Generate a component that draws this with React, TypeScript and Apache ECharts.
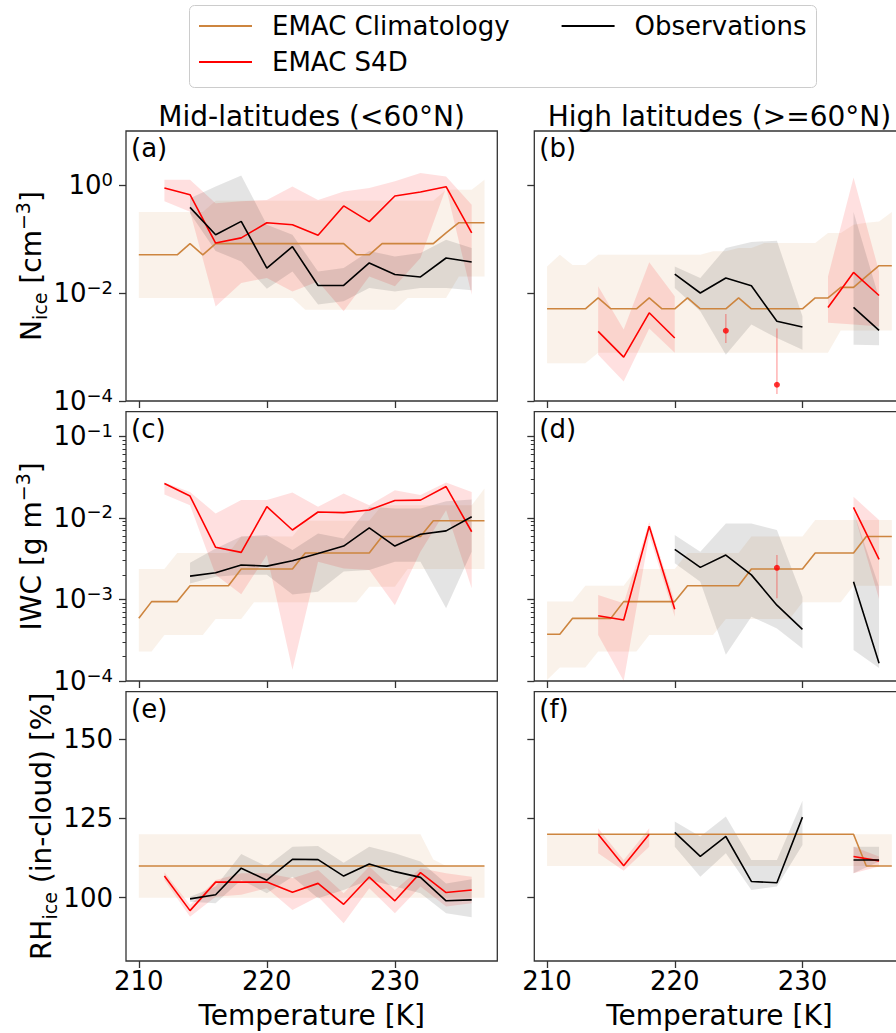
import React, { useEffect, useRef } from 'react';
import * as echarts from 'echarts';

// Temperatures [K]
const T_CLIM = [210, 211, 212, 213, 214, 215, 216, 217, 218, 219, 220, 221, 222, 223, 224, 225, 226, 227, 228, 229, 230, 231, 232, 233, 234, 235, 236, 237];
const T_BIN = [212, 214, 216, 218, 220, 222, 224, 226, 228, 230, 232, 234, 236];

// (a) Nice mid-latitudes
const climA = [0.051, 0.051, 0.051, 0.051, 0.082, 0.051, 0.082, 0.082, 0.082, 0.082, 0.082, 0.082, 0.082, 0.082, 0.082, 0.082, 0.082, 0.051, 0.051, 0.082, 0.082, 0.082, 0.082, 0.082, 0.13, 0.2, 0.2, 0.2];
const climAHi = [0.316, 0.316, 0.316, 0.316, 0.316, 0.316, 0.51, 0.51, 0.51, 0.51, 0.51, 0.51, 0.51, 0.51, 0.51, 0.51, 0.51, 0.51, 0.51, 0.51, 0.51, 0.51, 0.51, 0.51, 0.82, 0.82, 0.82, 1.25];
const climALo = [0.0081, 0.0081, 0.0081, 0.0081, 0.0081, 0.0081, 0.0081, 0.0081, 0.0081, 0.0081, 0.0081, 0.0081, 0.0081, 0.0049, 0.0049, 0.0049, 0.0049, 0.0049, 0.0049, 0.0049, 0.0049, 0.0081, 0.0081, 0.0081, 0.0081, 0.0203, 0.0203, 0.0203];
const s4dA = [0.88, 0.66, 0.084, 0.105, 0.2, 0.184, 0.117, 0.41, 0.21, 0.625, 0.74, 0.93, 0.13];
const s4dAHi = [1.25, 1.25, 0.46, 0.5, 0.53, 0.94, 0.53, 0.76, 0.88, 1.17, 1.67, 1.44, 0.43];
const s4dALo = [0.5, 0.32, 0.00565, 0.0153, 0.019, 0.0107, 0.0164, 0.0046, 0.0203, 0.0133, 0.0445, 0.88, 0.0093];
const obsA = [null, 0.385, 0.12, 0.212, 0.029, 0.072, 0.0138, 0.0138, 0.036, 0.022, 0.0198, 0.0445, 0.0375];
const obsAHi = [null, 0.57, 0.94, 1.5, 0.184, 0.12, 0.025, 0.029, 0.06, 0.0476, 0.055, 0.097, 0.068];
const obsALo = [null, 0.3, 0.06, 0.0385, 0.012, 0.025, 0.0061, 0.007, 0.0124, 0.0107, 0.0124, 0.0124, 0.0113];

// (b) Nice high latitudes
const climB = [0.0051, 0.0051, 0.0051, 0.0051, 0.0081, 0.0051, 0.0051, 0.0051, 0.0081, 0.0051, 0.0051, 0.0081, 0.0051, 0.0051, 0.0051, 0.0081, 0.0051, 0.0051, 0.0051, 0.0051, 0.0051, 0.0081, 0.0081, 0.0127, 0.0127, 0.0203, 0.032, 0.032];
const climBHi = [0.031, 0.051, 0.033, 0.033, 0.051, 0.051, 0.051, 0.051, 0.051, 0.051, 0.051, 0.051, 0.051, 0.059, 0.059, 0.068, 0.068, 0.084, 0.084, 0.084, 0.084, 0.084, 0.129, 0.129, 0.184, 0.2, 0.21, 0.316];
const climBLo = [0.0005, 0.0005, 0.0005, 0.0005, 0.00078, 0.00078, 0.00078, 0.00078, 0.00078, 0.00078, 0.00078, 0.00078, 0.00078, 0.00078, 0.00078, 0.00078, 0.00078, 0.00078, 0.00078, 0.00078, 0.00078, 0.00078, 0.00078, 0.00203, 0.00203, 0.00203, 0.00203, 0.00203];
const s4dB = [null, 0.00195, 0.00065, 0.0043, 0.00147, null, null, null, null, null, 0.0054, 0.024, 0.009];
const s4dBHi = [null, 0.0133, 0.0021, 0.037, 0.0087, null, null, null, null, null, 0.0203, 1.38, 0.025];
const s4dBLo = [null, 0.00072, 0.00023, 0.0022, 0.00078, null, null, null, null, null, 0.0028, 0.0026, 0.0024];
const obsB = [null, null, null, null, 0.0224, 0.01, 0.019, 0.0136, 0.003, 0.00234, null, 0.0054, 0.00203];
const obsBHi = [null, null, null, null, 0.031, 0.019, 0.068, 0.088, 0.093, 0.0037, null, 0.316, 0.0081];
const obsBLo = [null, null, null, null, 0.0124, 0.0046, 0.00072, 0.0026, 0.00147, 0.00089, null, 0.0011, 0.00108];
const dotsB = [[224, 0.002, 0.00119, 0.0041], [228, 0.0002, 0.000135, 0.0022]];

// (c) IWC mid-latitudes
const climC = [0.000586, 0.00094, 0.00094, 0.00094, 0.00147, 0.00147, 0.00147, 0.00147, 0.00236, 0.00236, 0.00236, 0.00236, 0.00236, 0.0037, 0.0037, 0.0037, 0.0037, 0.0037, 0.0037, 0.0059, 0.0059, 0.0059, 0.0059, 0.0092, 0.0092, 0.0092, 0.0092, 0.0092];
const climCHi = [0.00236, 0.00236, 0.00236, 0.0037, 0.0037, 0.0037, 0.0037, 0.0037, 0.0059, 0.0059, 0.0059, 0.0059, 0.0059, 0.0092, 0.0092, 0.0092, 0.0092, 0.0092, 0.0092, 0.0143, 0.0143, 0.0143, 0.0143, 0.0143, 0.0143, 0.0143, 0.0143, 0.0229];
const climCLo = [0.00023, 0.00023, 0.000366, 0.000366, 0.000366, 0.000366, 0.000575, 0.000575, 0.000575, 0.00092, 0.00092, 0.00092, 0.00092, 0.00092, 0.00092, 0.00092, 0.00092, 0.00092, 0.00143, 0.00143, 0.00143, 0.00236, 0.00236, 0.00236, 0.00236, 0.00236, 0.00236, 0.00236];
const s4dC = [0.0264, 0.0185, 0.00435, 0.00377, 0.0137, 0.0071, 0.0118, 0.0116, 0.0125, 0.0163, 0.0165, 0.0242, 0.00675];
const s4dCHi = [0.0271, 0.0208, 0.0113, 0.0165, 0.0165, 0.0204, 0.0137, 0.0199, 0.0143, 0.0218, 0.019, 0.0271, 0.0208];
const s4dCLo = [0.0193, 0.0143, 0.002, 0.00116, 0.0035, 0.000137, 0.0029, 0.0024, 0.0023, 0.00085, 0.00384, 0.0124, 0.00137];
const obsC = [null, 0.00193, 0.00212, 0.00264, 0.00256, 0.00298, 0.00366, 0.00451, 0.00755, 0.00451, 0.0063, 0.00693, 0.0103];
const obsCHi = [null, 0.00282, 0.00421, 0.0059, 0.00614, 0.00403, 0.00644, 0.0056, 0.0137, 0.013, 0.013, 0.016, 0.0168];
const obsCLo = [null, 0.00157, 0.0019, 0.002, 0.002, 0.00115, 0.00124, 0.0022, 0.0023, 0.0029, 0.0029, 0.00078, 0.00384];

// (d) IWC high latitudes
const climD = [0.000374, 0.000374, 0.000586, 0.000586, 0.000586, 0.000586, 0.00094, 0.00094, 0.00094, 0.00094, 0.00094, 0.00147, 0.00147, 0.00147, 0.00147, 0.00147, 0.00236, 0.00236, 0.00236, 0.00236, 0.00236, 0.0037, 0.0037, 0.0037, 0.0037, 0.0059, 0.0059, 0.0059];
const climDHi = [0.00094, 0.00094, 0.00094, 0.00147, 0.00147, 0.00147, 0.00147, 0.00236, 0.00236, 0.00236, 0.00236, 0.0037, 0.0037, 0.0037, 0.0037, 0.0037, 0.0059, 0.0059, 0.0059, 0.0059, 0.0059, 0.0094, 0.0094, 0.0094, 0.0094, 0.0094, 0.0094, 0.0094];
const climDLo = [0.000103, 0.000146, 0.000146, 0.000146, 0.00023, 0.00023, 0.00023, 0.00023, 0.000366, 0.000366, 0.000366, 0.000366, 0.000366, 0.000366, 0.000575, 0.000575, 0.000575, 0.000575, 0.000575, 0.000575, 0.00092, 0.00092, 0.00092, 0.00092, 0.00147, 0.00147, 0.00147, 0.00147];
const s4dD = [null, 0.00063, 0.00056, 0.0079, 0.00076, null, null, null, null, null, null, 0.0134, 0.0031];
const s4dDHi = [null, 0.00113, 0.000896, 0.0089, 0.00094, null, null, null, null, null, null, 0.0181, 0.0094];
const s4dDLo = [null, 0.000366, 0.0001, 0.0061, 0.000615, null, null, null, null, null, null, 0.0119, 0.00101];
const obsD = [null, null, null, null, 0.0041, 0.00247, 0.0035, 0.002, 0.00085, 0.00043, null, 0.00165, 0.000165];
const obsDHi = [null, null, null, null, 0.00614, 0.00384, 0.00853, 0.00853, 0.0071, 0.00108, null, 0.0119, 0.00143];
const obsDLo = [null, null, null, null, 0.00277, 0.00165, 0.00021, 0.000615, 0.00044, 0.00025, null, 0.00024, 0.000144];
const dotsD = [[228, 0.00244, 0.00103, 0.0035]];

// (e) RHice mid-latitudes
const climE = [110, 110, 110, 110, 110, 110, 110, 110, 110, 110, 110, 110, 110, 110, 110, 110, 110, 110, 110, 110, 110, 110, 110, 110, 110, 110, 110, 110];
const climEHi = [120, 120, 120, 120, 120, 120, 120, 120, 120, 120, 120, 120, 120, 120, 120, 120, 120, 120, 120, 120, 120, 120, 120, 112, 110, 110, 110, 110];
const climELo = [100, 100, 100, 100, 100, 100, 100, 100, 100, 100, 100, 100, 100, 100, 100, 100, 100, 100, 100, 100, 100, 100, 100, 100, 100, 100, 100, 100];
const s4dE = [106.8, 95.9, 104.9, 104.9, 104.9, 101.7, 104.5, 97.9, 106.5, 99.0, 107.9, 101.6, 102.4];
const s4dEHi = [108, 97.7, 105.6, 107.7, 107.7, 106.1, 108.7, 101.4, 109.8, 102.4, 109.3, 107.7, 106.6];
const s4dELo = [105.6, 94.0, 100.3, 100.9, 103.0, 96.1, 100.3, 91.9, 103.0, 95.1, 103.5, 97.2, 98.2];
const obsE = [null, 99.6, 100.9, 109.3, 105.5, 112.1, 112.0, 106.8, 110.6, 108.2, 106.4, 99.0, 99.3];
const obsEHi = [null, 100.3, 103.5, 113.8, 109.8, 116.1, 116.3, 111.0, 116.1, 114.0, 111.4, 104.5, 105.8];
const obsELo = [null, 98.7, 98.2, 105.6, 101.4, 106.6, 99.8, 102.4, 105.6, 103.5, 101.4, 95.1, 93.8];

// (f) RHice high latitudes
const climF = [120, 120, 120, 120, 120, 120, 120, 120, 120, 120, 120, 120, 120, 120, 120, 120, 120, 120, 120, 120, 120, 120, 120, 120, 120, 110, 110, 110];
const climFHi = [120, 120, 120, 120, 120, 120, 120, 120, 120, 120, 120, 120, 120, 120, 120, 120, 120, 120, 120, 120, 120, 120, 120, 120, 120, 120, 120, 120];
const climFLo = [110, 110, 110, 110, 110, 110, 110, 110, 110, 110, 110, 110, 110, 110, 110, 110, 110, 110, 110, 110, 110, 110, 110, 110, 110, 110, 110, 110];
const s4dF = [null, 120, 110.1, 120, null, null, null, null, null, null, null, 113, 111.6];
const s4dFHi = [null, 121.9, 111.9, 121.9, null, null, null, null, null, null, null, 116.1, 113.0];
const s4dFLo = [null, 114, 108.5, 116.1, null, null, null, null, null, null, null, 107.7, 109.8];
const obsF = [null, null, null, null, 120.6, 113.0, 119.3, 105.1, 104.7, 125.4, null, 111.9, 111.9];
const obsFHi = [null, null, null, null, 124.0, 119.3, 125.6, 111.9, 111.9, 130.6, null, 116.1, 116.1];
const obsFLo = [null, null, null, null, 116.1, 106.6, 114.0, 102.4, 103.5, 116.6, null, 107.7, 111.4];

const X_TICKS = [210, 220, 230];
const NICE_TICKS = [1e-4, 1e-2, 1];
const IWC_TICKS = [1e-4, 1e-3, 1e-2, 1e-1];
const IWC_MINOR = [2e-4, 3e-4, 4e-4, 5e-4, 6e-4, 7e-4, 8e-4, 9e-4, 2e-3, 3e-3, 4e-3, 5e-3, 6e-3, 7e-3, 8e-3, 9e-3, 2e-2, 3e-2, 4e-2, 5e-2, 6e-2, 7e-2, 8e-2, 9e-2];
const RH_TICKS = [100, 125, 150];
const LETTERS = ['(a)', '(b)', '(c)', '(d)', '(e)', '(f)'];
const COL_TITLES = ['Mid-latitudes (<60°N)', 'High latitudes (>=60°N)'];
const NAMES = { clim: 'EMAC Climatology', s4d: 'EMAC S4D', obs: 'Observations' };

const FONT = '"DejaVu Sans", Verdana, sans-serif';
const C_CLIM = '#CD853F';
const C_S4D = '#FF0000';
const C_OBS = '#000000';
const F_CLIM = 'rgba(205,133,63,0.11)';
const F_S4D = 'rgba(255,0,0,0.12)';
const F_OBS = 'rgba(0,0,0,0.105)';
const SPINE = '#333333';

const LEFTS = [126, 534.3];
const WIDTHS = [371.3, 370.3];
const TOPS = [131, 411.7, 691.7];
const HEIGHTS = [270, 269.3, 269.3];

const panels = [
  { clim: [climA, climALo, climAHi], s4d: [s4dA, s4dALo, s4dAHi], obs: [obsA, obsALo, obsAHi], dots: [] as number[][] },
  { clim: [climB, climBLo, climBHi], s4d: [s4dB, s4dBLo, s4dBHi], obs: [obsB, obsBLo, obsBHi], dots: dotsB },
  { clim: [climC, climCLo, climCHi], s4d: [s4dC, s4dCLo, s4dCHi], obs: [obsC, obsCLo, obsCHi], dots: [] as number[][] },
  { clim: [climD, climDLo, climDHi], s4d: [s4dD, s4dDLo, s4dDHi], obs: [obsD, obsDLo, obsDHi], dots: dotsD },
  { clim: [climE, climELo, climEHi], s4d: [s4dE, s4dELo, s4dEHi], obs: [obsE, obsELo, obsEHi], dots: [] as number[][] },
  { clim: [climF, climFLo, climFHi], s4d: [s4dF, s4dFLo, s4dFHi], obs: [obsF, obsFLo, obsFHi], dots: [] as number[][] },
];

const MINUS = '\u2212';
const logLabel = (v: number) => {
  const e = Math.round(Math.log10(v));
  return `10{sup|${e < 0 ? MINUS : ''}${Math.abs(e)}}`;
};

const ROWS = [
  { type: 'log', min: 1e-4, max: 10, ticks: NICE_TICKS, name: `N{sub|ice} [cm{sup|${MINUS}3}]`, fmt: logLabel },
  { type: 'log', min: 1e-4, max: 0.2, ticks: IWC_TICKS, name: `IWC [g m{sup|${MINUS}3}]`, fmt: logLabel },
  { type: 'value', min: 80, max: 165, ticks: RH_TICKS, name: 'RH{sub|ice} (in-cloud) [%]', fmt: (v: number) => String(v) },
];

function bandSeries(id: string, idx: number, t: number[], lo: (number | null)[], hi: (number | null)[], fill: string, z: number) {
  const pts = t.map((x, i) => [x, lo[i], hi[i]]);
  const valid = pts.filter((p) => p[1] != null && p[2] != null);
  return {
    type: 'custom',
    id,
    xAxisIndex: idx,
    yAxisIndex: idx,
    silent: true,
    clip: true,
    z,
    dimensions: ['t', 'lo', 'hi'],
    encode: { x: 0, y: [1, 2] },
    data: valid,
    renderItem: (params: any, api: any) => {
      if (params.dataIndex !== 0) return null;
      const runs: any[][] = [];
      let cur: any[] = [];
      pts.forEach((p) => {
        if (p[1] == null || p[2] == null) {
          if (cur.length) runs.push(cur);
          cur = [];
        } else cur.push(p);
      });
      if (cur.length) runs.push(cur);
      return {
        type: 'group',
        children: runs
          .filter((r) => r.length > 1)
          .map((r) => ({
            type: 'polygon',
            shape: {
              points: [
                ...r.map((p) => api.coord([p[0], p[2]])),
                ...r.slice().reverse().map((p) => api.coord([p[0], p[1]])),
              ],
            },
            style: { fill, stroke: null },
          })),
      };
    },
  };
}

function lineSeries(name: string, idx: number, t: number[], v: (number | null)[], color: string, z: number) {
  return {
    type: 'line',
    name,
    xAxisIndex: idx,
    yAxisIndex: idx,
    data: t.map((x, i) => [x, v[i]]),
    showSymbol: false,
    symbol: 'none',
    connectNulls: false,
    silent: true,
    z,
    lineStyle: { color, width: 1.6 },
    itemStyle: { color },
  };
}

function buildOption() {
  const grid: any[] = [];
  const xAxis: any[] = [];
  const yAxis: any[] = [];
  const series: any[] = [];
  const graphic: any[] = [];

  for (let i = 0; i < 6; i++) {
    const row = Math.floor(i / 2);
    const col = i % 2;
    const R = ROWS[row];
    grid.push({
      left: LEFTS[col],
      top: TOPS[row],
      width: WIDTHS[col],
      height: HEIGHTS[row],
      show: true,
      borderColor: SPINE,
      borderWidth: 1.3,
      backgroundColor: 'transparent',
      containLabel: false,
      outerBoundsMode: 'none',
    });
    xAxis.push({
      type: 'value',
      gridIndex: i,
      min: 209,
      max: 238,
      axisLine: { show: false },
      splitLine: { show: false },
      axisTick: { show: true, customValues: X_TICKS, length: 7, lineStyle: { color: SPINE, width: 1.3 } },
      axisLabel: {
        show: row === 2,
        customValues: X_TICKS,
        fontSize: 26,
        fontFamily: FONT,
        color: '#000',
        margin: 7,
      },
      name: row === 2 ? 'Temperature [K]' : '',
      nameLocation: 'middle',
      nameGap: 40,
      nameTextStyle: { fontSize: 28, fontFamily: FONT, color: '#000', verticalAlign: 'top' },
    });
    const y: any = {
      type: R.type,
      gridIndex: i,
      position: 'left',
      min: R.min,
      max: R.max,
      axisLine: { show: false },
      splitLine: { show: false },
      axisTick: { show: true, customValues: R.ticks, length: 7, lineStyle: { color: SPINE, width: 1.3 } },
      axisLabel: {
        show: col === 0,
        customValues: R.ticks,
        formatter: R.fmt,
        fontSize: 26,
        fontFamily: FONT,
        color: '#000',
        margin: 13,
        lineHeight: 30,
        rich: { sup: { fontSize: 18, lineHeight: 24, verticalAlign: 'top', fontFamily: FONT, color: '#000' } },
      },
    };
    if (R.type === 'log') y.logBase = 10;
    if (col === 0) {
      y.name = R.name;
      y.nameLocation = 'middle';
      y.nameRotate = 90;
      y.nameGap = 62;
      y.nameTextStyle = {
        fontSize: 28,
        fontFamily: FONT,
        color: '#000',
        lineHeight: 36,
        rich: {
          sub: { fontSize: 19, lineHeight: 30, verticalAlign: 'bottom', fontFamily: FONT, color: '#000' },
          sup: { fontSize: 19, lineHeight: 30, verticalAlign: 'top', fontFamily: FONT, color: '#000' },
        },
      };
    }
    yAxis.push(y);

    const P = panels[i];
    series.push(bandSeries(`climband${i}`, i, T_CLIM, P.clim[1], P.clim[2], F_CLIM, 1));
    series.push(bandSeries(`s4dband${i}`, i, T_BIN, P.s4d[1], P.s4d[2], F_S4D, 2));
    series.push(bandSeries(`obsband${i}`, i, T_BIN, P.obs[1], P.obs[2], F_OBS, 3));
    series.push(lineSeries(NAMES.clim, i, T_CLIM, P.clim[0], C_CLIM, 5));
    series.push(lineSeries(NAMES.s4d, i, T_BIN, P.s4d[0], C_S4D, 6));
    series.push(lineSeries(NAMES.obs, i, T_BIN, P.obs[0], C_OBS, 7));
    if (P.dots.length) {
      series.push({
        type: 'custom',
        id: `err${i}`,
        xAxisIndex: i,
        yAxisIndex: i,
        silent: true,
        z: 8,
        dimensions: ['t', 'v', 'lo', 'hi'],
        encode: { x: 0, y: [1, 2, 3] },
        data: P.dots,
        renderItem: (params: any, api: any) => {
          const a = api.coord([api.value(0), api.value(2)]);
          const b = api.coord([api.value(0), api.value(3)]);
          return {
            type: 'line',
            shape: { x1: a[0], y1: a[1], x2: b[0], y2: b[1] },
            style: { stroke: 'rgba(255,0,0,0.3)', lineWidth: 1.5 },
          };
        },
      });
      series.push({
        type: 'scatter',
        id: `dots${i}`,
        xAxisIndex: i,
        yAxisIndex: i,
        silent: true,
        z: 9,
        symbol: 'circle',
        symbolSize: 6,
        itemStyle: { color: C_S4D },
        data: P.dots.map((d) => [d[0], d[1]]),
      });
    }

    graphic.push({
      type: 'text',
      x: LEFTS[col] + 5,
      y: TOPS[row] + 4,
      style: { text: LETTERS[i], fontSize: 26, fontFamily: FONT, fill: '#000', align: 'left', verticalAlign: 'top' },
      z: 20,
    });
  }

  // minor ticks on IWC axes
  [2, 3].forEach((gi) => {
    yAxis.push({
      type: 'log',
      logBase: 10,
      gridIndex: gi,
      position: 'left',
      min: 1e-4,
      max: 0.2,
      axisLine: { show: false },
      splitLine: { show: false },
      axisLabel: { show: false },
      axisTick: { show: true, customValues: IWC_MINOR, length: 3.5, lineStyle: { color: SPINE, width: 1 } },
    });
  });

  COL_TITLES.forEach((t, c) => {
    graphic.push({
      type: 'text',
      x: LEFTS[c] + WIDTHS[c] / 2,
      y: 116,
      style: { text: t, fontSize: 28, fontFamily: FONT, fill: '#000', align: 'center', verticalAlign: 'middle' },
      z: 20,
    });
  });

  graphic.push({
    type: 'rect',
    shape: { x: 189.5, y: 5.5, width: 627, height: 82, r: 5 },
    style: { fill: '#ffffff', stroke: '#cccccc', lineWidth: 1 },
    z: 0,
  });

  const legendCommon = {
    orient: 'horizontal',
    icon: 'rect',
    itemWidth: 53,
    itemHeight: 2,
    padding: 0,
    selectedMode: false,
    textStyle: { fontSize: 26, fontFamily: FONT, color: '#000', lineHeight: 30, padding: [0, 0, 0, 15] },
  };

  return {
    animation: false,
    backgroundColor: '#ffffff',
    grid,
    xAxis,
    yAxis,
    series,
    graphic,
    legend: [
      {
        ...legendCommon,
        left: 199,
        top: 11,
        itemGap: 52,
        data: [
          { name: NAMES.clim, itemStyle: { color: C_CLIM } },
          { name: NAMES.obs, itemStyle: { color: C_OBS } },
        ],
      },
      {
        ...legendCommon,
        left: 199,
        top: 47,
        data: [{ name: NAMES.s4d, itemStyle: { color: C_S4D } }],
      },
    ],
  };
}

export default function App() {
  const ref = useRef<HTMLDivElement>(null);
  useEffect(() => {
    if (!ref.current) return;
    const chart = echarts.init(ref.current, null, { renderer: 'svg' });
    chart.setOption(buildOption() as any);
    return () => chart.dispose();
  }, []);
  return <div ref={ref} style={{ position: 'absolute', left: 0, top: 0, width: 896, height: 1033 }} />;
}
